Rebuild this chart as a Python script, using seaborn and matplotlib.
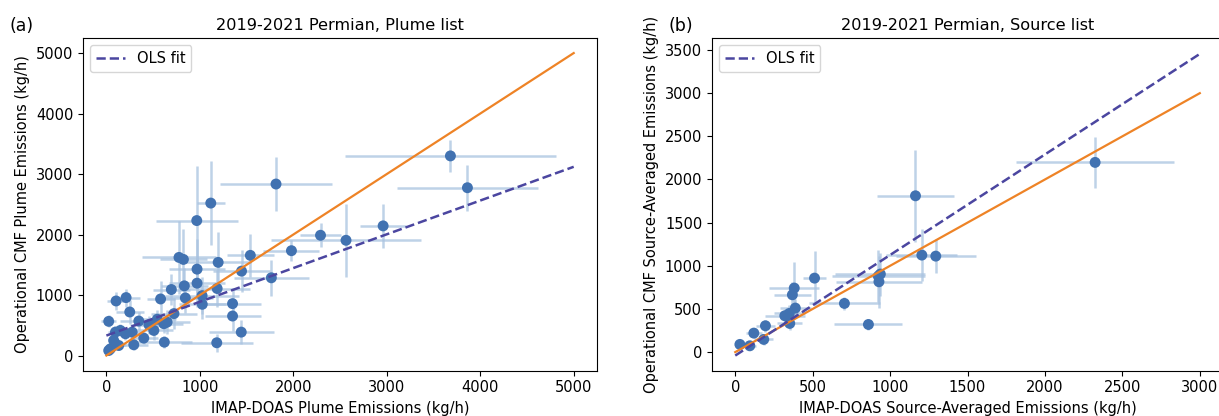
import numpy as np
import matplotlib
matplotlib.use("Agg")
import matplotlib.pyplot as plt
import seaborn as sns

# --- painel (a): lista de plumas ---
plume_x = [3681, 3863, 2961, 2564, 2291, 1980, 1815, 1117, 967, 1540,
           1765, 1446, 777, 824, 1196, 970, 970, 834, 1185, 695,
           845, 1024, 1026, 1350, 1350, 1443, 1181, 620, 580, 211,
           104, 250, 25, 347, 455, 650, 615, 723, 508, 400,
           293, 97, 150, 204, 276, 78, 132, 43, 25, 545]
plume_y = [3300, 2774, 2143, 1905, 1988, 1733, 2835, 2520, 2231, 1656,
           1285, 1395, 1622, 1589, 1540, 1428, 1196, 1152, 1108, 1091,
           952, 990, 847, 858, 653, 387, 211, 221, 935, 958,
           902, 720, 565, 570, 510, 553, 526, 693, 415, 288,
           178, 387, 415, 360, 387, 249, 166, 111, 83, 600]
plume_xerr = [1130, 750, 250, 800, 220, 300, 600, 150, 440, 250,
              400, 300, 400, 250, 350, 300, 300, 250, 350, 200,
              300, 400, 250, 300, 300, 350, 385, 300, 150, 150,
              100, 150, 80, 200, 200, 250, 200, 250, 200, 150,
              150, 80, 100, 100, 120, 60, 80, 50, 40, 200]
plume_yerr = [270, 380, 360, 600, 200, 170, 450, 700, 900, 350,
              300, 350, 600, 500, 500, 500, 400, 300, 300, 250,
              250, 300, 250, 250, 250, 200, 150, 100, 300, 150,
              150, 200, 100, 150, 150, 200, 150, 250, 150, 100,
              80, 100, 100, 100, 100, 80, 80, 50, 50, 150]
plume_fit = (0.558, 330)  # inclinação, intercepto

# --- painel (b): lista de fontes ---
source_x = [2324, 1164, 1205, 1295, 937, 924, 928, 512, 381, 369,
            705, 860, 388, 320, 349, 352, 195, 120, 184, 94, 30]
source_y = [2198, 1811, 1124, 1112, 904, 880, 815, 857, 742, 664,
            564, 320, 510, 421, 448, 332, 305, 220, 147, 73, 89]
source_xerr = [510, 250, 230, 260, 290, 300, 280, 75, 160, 120,
               230, 220, 100, 130, 100, 80, 60, 50, 60, 40, 30]
source_yerr = [300, 530, 300, 200, 250, 300, 300, 320, 300, 150,
               80, 60, 100, 80, 100, 80, 70, 60, 60, 40, 40]
source_fit = (1.165, -40)

pt_color = "#4172b1"
err_color = "#a9c3e0"
one_color = "#ee8326"
fit_color = "#4b46a0"


def painel(ax, x, y, xerr, yerr, fit, xmax, titulo, xlabel, ylabel):
    ax.errorbar(x, y, xerr=xerr, yerr=yerr, fmt="none", ecolor=err_color,
                elinewidth=1.8, alpha=0.75, zorder=1)
    sns.scatterplot(x=x, y=y, ax=ax, color=pt_color, s=62, edgecolor="none",
                    zorder=3)
    linha = np.array([0, xmax])
    sns.lineplot(x=linha, y=linha, ax=ax, color=one_color, lw=1.6, zorder=4)
    sns.lineplot(x=linha, y=fit[0] * linha + fit[1], ax=ax, color=fit_color,
                 lw=1.8, ls="--", label="OLS fit", zorder=4)
    ax.set_title(titulo, fontsize=11.6)
    ax.set_xlabel(xlabel, fontsize=10.5)
    ax.set_ylabel(ylabel, fontsize=10.5)
    ax.tick_params(labelsize=10.5)
    ax.legend(loc="upper left", fontsize=10.5)


fig = plt.figure(figsize=(12.19, 4.16), dpi=100)
ax1 = fig.add_axes([0.0681, 0.109, 0.4217, 0.7998])
ax2 = fig.add_axes([0.5841, 0.109, 0.4192, 0.7998])

painel(ax1, plume_x, plume_y, plume_xerr, plume_yerr, plume_fit, 5000,
       "2019-2021 Permian, Plume list",
       "IMAP-DOAS Plume Emissions (kg/h)",
       "Operational CMF Plume Emissions (kg/h)")
painel(ax2, source_x, source_y, source_xerr, source_yerr, source_fit, 3000,
       "2019-2021 Permian, Source list",
       "IMAP-DOAS Source-Averaged Emissions (kg/h)",
       "Operational CMF Source-Averaged Emissions (kg/h)")

ax1.set_xlim(-250, 5250)
ax1.set_ylim(-250, 5250)
ax1.set_xticks([0, 1000, 2000, 3000, 4000, 5000])
ax2.set_xlim(-150, 3150)
ax2.set_ylim(-215, 3640)
ax2.set_yticks([0, 500, 1000, 1500, 2000, 2500, 3000, 3500])

fig.text(0.008, 0.925, "(a)", fontsize=12.5)
fig.text(0.548, 0.925, "(b)", fontsize=12.5)

fig.savefig("out.png", dpi=100)
